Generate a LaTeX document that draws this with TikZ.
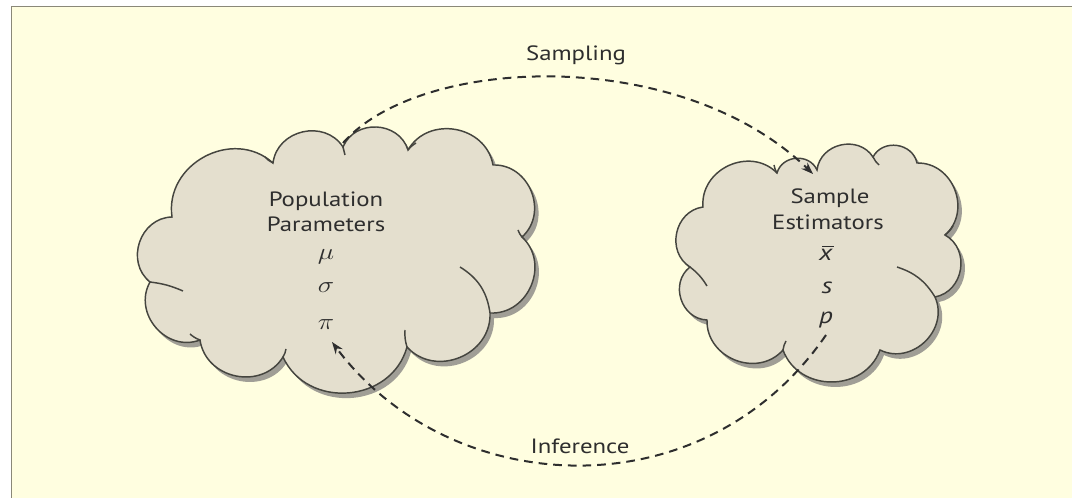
\documentclass[tikz,border=0pt]{standalone}
\usepackage{fontspec}
\setmainfont{PT Sans}
\usetikzlibrary{arrows.meta}
\definecolor{bgcream}{HTML}{FFFEE0}
\definecolor{framegray}{HTML}{8A8878}
\definecolor{cloudfill}{HTML}{E4DFCE}
\definecolor{cloudline}{HTML}{45453F}
\definecolor{shadowgray}{HTML}{A09E96}
\definecolor{textgray}{HTML}{2E2E2E}
\newcommand{\leftcloudpath}{(172,217) to[cloudedge] (273,163) to[cloudedge] (343,147) to[cloudedge] (408,150) to[cloudedge] (493,165) to[cloudedge] (522,237) to[cloudedge] (490,313) to[cloudedge] (407,347) to[cloudedge] (283,357) to[cloudedge] (200,340) to[cloudedge] (150,282) to[cloudedge] cycle}
\newcommand{\rightcloudpath}{(703,207) to[cloudedge] (777,173) to[cloudedge] (817,170) to[cloudedge] (873,157) to[cloudedge] (917,163) to[cloudedge] (945,235) to[cloudedge] (935,297) to[cloudedge] (880,350) to[cloudedge] (783,350) to[cloudedge] (707,320) to[cloudedge] (690,267) to[cloudedge] cycle}
\newcommand{\wide}[1]{\scalebox{1.2}[1]{#1}}
\newcommand{\barx}{\rlap{\hspace{0.12em}\raisebox{0.6em}{\rule{0.42em}{0.055em}}}\textit{x}}
\begin{document}
\begin{tikzpicture}[x=0.75pt,y=-0.75pt,
  cloudedge/.style={bend left=70, looseness=1.2},
  cloudbody/.style={draw=cloudline, line width=1.1pt, fill=cloudfill},
  crease/.style={draw=cloudline, line width=1.1pt},
  shadowbody/.style={fill=shadowgray, draw=none},
  flowarrow/.style={draw=black!82, line width=1.5pt, dash pattern=on 6.5pt off 4.5pt,
    -{Stealth[length=9pt,width=6.5pt]}},
  lbl/.style={text=textgray, font=\fontsize{15.5}{18}\selectfont, inner sep=0pt, anchor=base},
  sym/.style={text=textgray, font=\fontsize{17}{19}\selectfont, inner sep=0pt, anchor=base}]
\useasboundingbox (0,0) rectangle (1072,498);
% background and frame
\fill[white] (0,0) rectangle (1072,498);
\fill[bgcream] (11,6) rectangle (1072,498);
\draw[framegray, line width=1.3pt] (11.5,498) -- (11.5,6.5) -- (1072,6.5);
% shadows
\begin{scope}[shift={(4,5)}]
  \path[shadowbody] \leftcloudpath;
  \path[shadowbody] \rightcloudpath;
\end{scope}
% clouds
\path[cloudbody] \leftcloudpath;
\path[cloudbody] \rightcloudpath;
% creases left cloud
\draw[crease] (150,282) to[bend left=8] (183,291);
\draw[crease] (490,313) to[bend right=25] (460,267);
\draw[crease] (407,347) to[bend left=10] (405,330);
\draw[crease] (273,163) to[bend left=10] (265,157);
\draw[crease] (343,147) to[bend left=5] (345,155);
\draw[crease] (408,150) to[bend left=10] (416,143);
\draw[crease] (522,237) to[bend left=10] (518,230);
\draw[crease] (200,340) to[bend left=10] (190,334);
\draw[crease] (283,357) to[bend right=10] (286,349);
% creases right cloud
\draw[crease] (935,297) to[bend right=20] (897,267);
\draw[crease] (690,267) to[bend left=10] (707,286);
\draw[crease] (777,173) to[bend left=10] (774,165);
\draw[crease] (873,157) to[bend right=10] (879,165);
\draw[crease] (945,235) to[bend right=10] (953,226);
\draw[crease] (783,350) to[bend left=10] (786,341);
% texts
\node[lbl] (pop1) at (326,206.5) {\wide{Population}};
\node[lbl] (pop2) at (326,231.5) {\wide{Parameters}};
\node[sym] (mu) at (326,260) {\wide{$\mu$}};
\node[sym] (sigma) at (326,293) {\wide{$\sigma$}};
\node[sym] (pi) at (326,330) {\wide{$\pi$}};
\node[lbl] (smp1) at (830,204) {\wide{Sample}};
\node[lbl] (smp2) at (828,230) {\wide{Estimators}};
\node[sym] (xbar) at (826,261) {\wide{\barx}};
\node[sym] (sdev) at (827,294) {\wide{\textit{s}}};
\node[sym] (prop) at (826,324) {\wide{\textit{p}}};
\node[lbl] (samplinglbl) at (576,61) {\wide{Sampling}};
\node[lbl] (inferencelbl) at (580,454) {\wide{Inference}};
% connectors
\coordinate (sampstart) at (343,143);
\coordinate (sampend) at (813,174);
\coordinate (infstart) at (826,335);
\coordinate (infend) at (332,342);
\draw[flowarrow] (sampstart) .. controls (420,55) and (680,45) .. (sampend);
\draw[flowarrow] (infstart) .. controls (703,514) and (450,500) .. (infend);
\end{tikzpicture}
\end{document}
